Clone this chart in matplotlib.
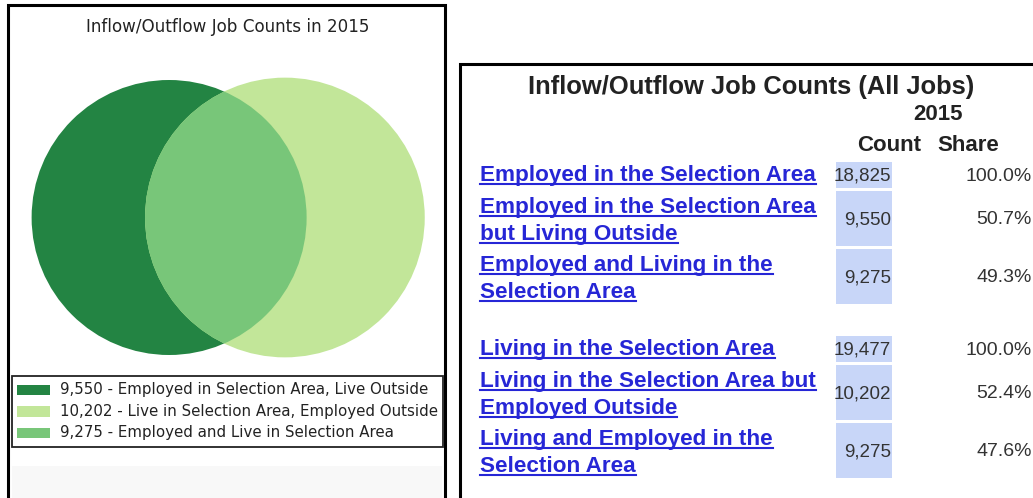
import numpy as np
import matplotlib
matplotlib.use("Agg")
import matplotlib.pyplot as plt
from matplotlib.patches import Circle, Rectangle
from matplotlib import font_manager

# Venn data (2015 job counts)
venn_title = "Inflow/Outflow Job Counts in 2015"
only_work = 9550      # employed in area, live outside
only_live = 10202     # live in area, employed outside
both = 9275           # employed and live in area
venn_labels = ["Employed in Selection Area, Live Outside",
               "Live in Selection Area, Employed Outside",
               "Employed and Live in Selection Area"]
venn_colors = ["#238443", "#c2e699", "#78c679"]

# Table data
table_title = "Inflow/Outflow Job Counts (All Jobs)"
table_year = "2015"
emp_labels = [["Employed in the Selection Area"],
              ["Employed in the Selection Area", "but Living Outside"],
              ["Employed and Living in the", "Selection Area"]]
emp_counts = [18825, 9550, 9275]
emp_shares = [100.0, 50.7, 49.3]
live_labels = [["Living in the Selection Area"],
               ["Living in the Selection Area but", "Employed Outside"],
               ["Living and Employed in the", "Selection Area"]]
live_counts = [19477, 10202, 9275]
live_shares = [100.0, 52.4, 47.6]

# narrow font for the numbers if it exists
names = {f.name for f in font_manager.fontManager.ttflist}
num_font = "Liberation Sans Narrow" if "Liberation Sans Narrow" in names else "Liberation Sans"
num_size = 16 if num_font == "Liberation Sans Narrow" else 13.5

W, H = 1033, 498
fig = plt.figure(figsize=(W / 100, H / 100), dpi=100)
fig.patch.set_facecolor("white")

# overlay axes in pixel coordinates
ax = fig.add_axes([0, 0, 1, 1])
ax.set_xlim(0, W)
ax.set_ylim(H, 0)
ax.axis("off")

# left panel frame
ax.plot([8, 8, 445, 445], [H + 2, 5, 5, H + 2], color="black", lw=2.2, solid_joinstyle="miter")
ax.add_patch(Rectangle((12, 466), 430, 40, facecolor="#f8f8f8", edgecolor="none"))
ax.text(228, 27, venn_title, ha="center", va="center", fontsize=12.1,
        family="DejaVu Sans", color="#222222")

# ---- Venn diagram (area proportional) ----
total_work = only_work + both
total_live = only_live + both
r1 = np.sqrt(total_work / np.pi)
r2 = np.sqrt(total_live / np.pi)


def lens_area(d, a, b):
    if d >= a + b:
        return 0.0
    if d <= abs(a - b):
        return np.pi * min(a, b) ** 2
    p1 = a * a * np.arccos((d * d + a * a - b * b) / (2 * d * a))
    p2 = b * b * np.arccos((d * d + b * b - a * a) / (2 * d * b))
    p3 = 0.5 * np.sqrt((-d + a + b) * (d + a - b) * (d - a + b) * (d + a + b))
    return p1 + p2 - p3


lo, hi = abs(r1 - r2), r1 + r2
for _ in range(80):
    mid = (lo + hi) / 2
    if lens_area(mid, r1, r2) > both:
        lo = mid
    else:
        hi = mid
d = (lo + hi) / 2

scale = 137.5 / r1            # pixels per unit
cx, cy = 227, 217.5           # pixel centre of diagram
x1 = cx - d / 2 * scale
x2 = cx + d / 2 * scale
c1 = Circle((x1, cy), r1 * scale, facecolor=venn_colors[0], edgecolor="none")
c2 = Circle((x2, cy), r2 * scale, facecolor=venn_colors[1], edgecolor="none")
c3 = Circle((x2, cy), r2 * scale, facecolor=venn_colors[2], edgecolor="none")
ax.add_patch(c1)
ax.add_patch(c2)
ax.add_patch(c3)
c3.set_clip_path(c1)

# legend
ax.add_patch(Rectangle((12, 376), 431, 71, facecolor="white", edgecolor="#222222", lw=1.3))
leg_vals = [only_work, only_live, both]
for i, (v, lab) in enumerate(zip(leg_vals, venn_labels)):
    yy = 389.5 + i * 21.5
    ax.add_patch(Rectangle((17, yy - 5), 33, 10.5, facecolor=venn_colors[i], edgecolor="none"))
    ax.text(60, yy, f"{v:,} - {lab}", ha="left", va="center", fontsize=10.8,
            family="DejaVu Sans", color="#222222")

# ---- right table ----
ax.plot([460, 460, W + 2], [H + 2, 64, 64], color="black", lw=2.2, solid_joinstyle="miter")
hdr = dict(va="center", family="Liberation Sans", weight="bold", color="#222222")
ax.text(751, 87, table_title, ha="center", fontsize=18.4, **hdr)
ax.text(938, 114, table_year, ha="center", fontsize=16, **hdr)
ax.text(889, 145, "Count", ha="center", fontsize=16, **hdr)
ax.text(968, 145, "Share", ha="center", fontsize=16, **hdr)

link_color = "#2626d6"
cell_color = "#c8d6f8"
line_h = 27
links = []


def draw_block(labels, counts, shares, top):
    y = top
    for lab, cnt, sh in zip(labels, counts, shares):
        n = len(lab)
        h = 26 if n == 1 else 55
        ax.add_patch(Rectangle((836, y), 56, h, facecolor=cell_color, edgecolor="none"))
        for k, line in enumerate(lab):
            base = y + 19 + k * line_h if n == 1 else y + 22 + k * line_h
            t = ax.text(480, base, line, ha="left", va="baseline", fontsize=16.2,
                        family="Liberation Sans", weight="bold", color=link_color)
            links.append((t, base))
        mid = y + h / 2
        ax.text(891, mid + 1, f"{cnt:,}", ha="right", va="center", fontsize=num_size,
                family=num_font, color="#333333")
        ax.text(1032, mid + 1, f"{sh:.1f}%", ha="right", va="center", fontsize=num_size + 0.5,
                family=num_font, color="#333333")
        y += h + 3
    return y


draw_block(emp_labels, emp_counts, emp_shares, 162)
draw_block(live_labels, live_counts, live_shares, 336)

# underline the link texts
fig.canvas.draw()
renderer = fig.canvas.get_renderer()
inv = ax.transData.inverted()
for t, base in links:
    bb = t.get_window_extent(renderer)
    (xa, _), (xb, _) = inv.transform([[bb.x0, bb.y0], [bb.x1, bb.y1]])
    ax.plot([xa, xb], [base + 2.5, base + 2.5], color=link_color, lw=1.5)

fig.savefig("out.png", dpi=100)
